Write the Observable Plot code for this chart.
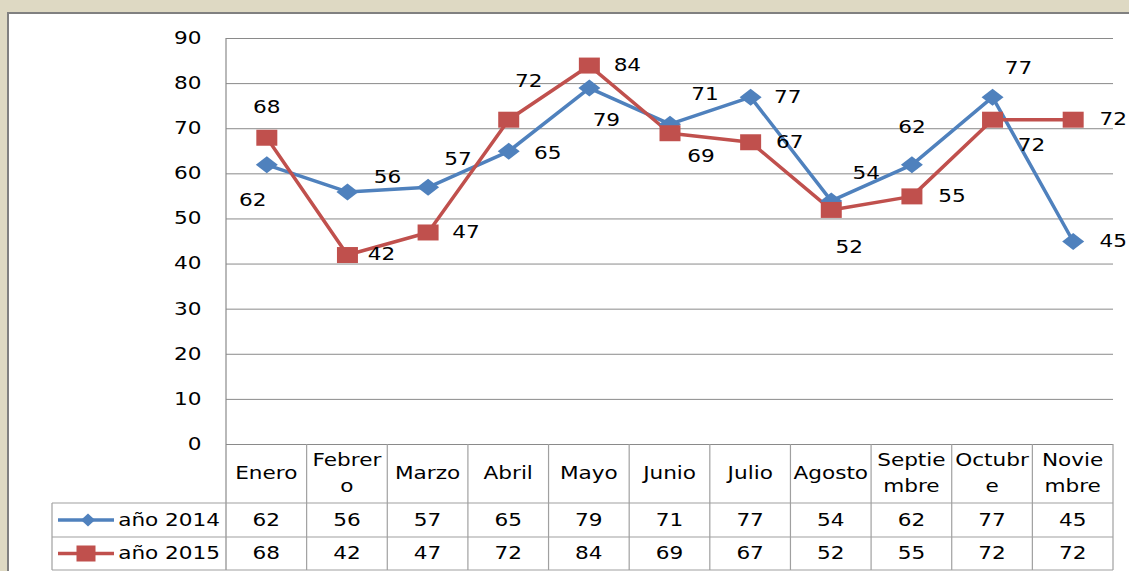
<!DOCTYPE html>
<html><head><meta charset="utf-8">
<script src="https://cdn.jsdelivr.net/npm/d3@7"></script>
<script src="https://cdn.jsdelivr.net/npm/@observablehq/plot@0.6"></script>
<style>
html,body{margin:0;padding:0;background:#DED9C3;}
#wrap{position:relative;width:1129px;height:571px;overflow:hidden;background:#DED9C3;}
#panel{position:absolute;left:7px;top:12px;width:1140px;height:580px;background:#fff;border-left:2px solid #808080;border-top:2px solid #808080;}
#chart{position:absolute;left:0;top:0;}
#chart text.tbl{transform-box:fill-box;transform-origin:center;transform:scaleX(1.27);}
</style></head><body><div id="wrap"><div id="panel"></div><div id="chart"></div></div>
<script>
const months = ["Enero","Febrero","Marzo","Abril","Mayo","Junio","Julio","Agosto","Septiembre","Octubre","Noviembre"];
const headerLines = [["Enero"],["Febrer","o"],["Marzo"],["Abril"],["Mayo"],["Junio"],["Julio"],["Agosto"],["Septie","mbre"],["Octubr","e"],["Novie","mbre"]];
const seriesNames = ["año 2014","año 2015"];
const values2014 = [62,56,57,65,79,71,77,54,62,77,45];
const values2015 = [68,42,47,72,84,69,67,52,55,72,72];
const yTicks = [0,10,20,30,40,50,60,70,80,90];
// label placement offsets (px) for data labels
const off2014 = [[-14,36],[40,-14],[30,-28],[39,2],[17,32],[35,-30],[37,0],[35,-27],[0,-37],[26,-29],[40,0]];
const off2015 = [[0,-30],[34,0],[38,0],[20,-38],[38,0],[31,23],[39,0],[18,38],[40,0],[39,26],[40,0]];

const blue = "#4F81BD", red = "#C0504D";
const SX = 1.27;
const d14 = months.map((m,i)=>({month:m, value:values2014[i]}));
const d15 = months.map((m,i)=>({month:m, value:values2015[i]}));

const wideDiamond = {draw(ctx){ const w=11, h=8.5; ctx.moveTo(0,-h); ctx.lineTo(w,0); ctx.lineTo(0,h); ctx.lineTo(-w,0); ctx.closePath(); }};
const wideSquare = {draw(ctx){ ctx.rect(-10.5,-8,21,16); }};

const labelMarks = (data, offs) => data.map((d,i)=>Plot.text([d], {x:"month", y:"value", text:d=>String(d.value), dx:offs[i][0], dy:offs[i][1], fontSize:17, fill:"#000"}));

const plot = Plot.plot({
  width:1129, height:571, marginLeft:226, marginRight:16, marginTop:38, marginBottom:127,
  style:{background:"transparent", fontFamily:"DejaVu Sans", fontSize:"17px", color:"#000", overflow:"visible"},
  x:{type:"band", domain:months, padding:0, round:false, axis:null},
  y:{domain:[0,90], ticks:yTicks},
  marks:[
    Plot.gridY(yTicks, {stroke:"#8a8a8a", strokeOpacity:1, strokeWidth:1}),
    Plot.axisY(yTicks, {tickSize:0, tickPadding:25, fontSize:17, label:null, fill:"#000"}),
    Plot.line(d14, {x:"month", y:"value", stroke:blue, strokeWidth:3.5}),
    Plot.line(d15, {x:"month", y:"value", stroke:red, strokeWidth:3.5}),
    Plot.dot(d14, {x:"month", y:"value", symbol:wideDiamond, fill:blue, r:8}),
    Plot.dot(d15, {x:"month", y:"value", symbol:wideSquare, fill:red, r:8}),
    ...labelMarks(d14, off2014),
    ...labelMarks(d15, off2015)
  ]
});
document.getElementById("chart").appendChild(plot);

// widen Plot's texts horizontally around their anchor point
d3.select(plot).selectAll("text").each(function(){
  const t = this.getAttribute("transform");
  if (t) { this.setAttribute("transform", `${t} scale(${SX},1)`); }
  else {
    const x = parseFloat(this.getAttribute("x")) || 0;
    this.setAttribute("transform", `translate(${x},0) scale(${SX},1) translate(${-x},0)`);
  }
});

// data table below the chart, positioned with Plot's scales
const svg = d3.select(plot);
const xs = plot.scale("x"), ys = plot.scale("y");
const bw = xs.bandwidth, xL = xs.range[0], xR = xs.range[1];
const yBase = ys.apply(0), yTop = ys.apply(90);
const r1 = yBase + 59, r2 = yBase + 93, r3 = 570;
const legendL = 52;
const g = svg.append("g").attr("font-family","DejaVu Sans").attr("font-size",17).attr("text-anchor","start");
const lineCol = "#a0a0a0";
const hl = (x1,x2,y)=>g.append("line").attr("x1",x1).attr("x2",x2).attr("y1",y).attr("y2",y).attr("stroke",lineCol).attr("stroke-width",1.2);
const vl = (x,y1,y2,c)=>g.append("line").attr("x1",x).attr("x2",x).attr("y1",y1).attr("y2",y2).attr("stroke",c||lineCol).attr("stroke-width",1.2);
vl(xL, yTop, r3, "#8a8a8a");
months.forEach((m,i)=>{ if(i>0) vl(xs.apply(m), yBase, r3); });
vl(xR, yBase, r3);
vl(legendL, r1, r3);
hl(legendL, xR, r1); hl(legendL, xR, r2); hl(legendL, xR, r3);
// header
months.forEach((m,i)=>{
  const cx = xs.apply(m) + bw/2;
  const lines = headerLines[i];
  const cy = (yBase + r1)/2;
  lines.forEach((t,j)=>{
    const y = lines.length===1 ? cy : cy + (j===0 ? -13 : 13);
    g.append("text").attr("class","tbl").attr("x",cx).attr("y",y).attr("text-anchor","middle").attr("dy","0.35em").text(t);
  });
});
// rows
[[values2014, blue, "diamond"], [values2015, red, "square"]].forEach(([vals,col,sym],k)=>{
  const ya = k===0 ? r1 : r2, yb = k===0 ? r2 : r3;
  const cy = (ya+yb)/2;
  g.append("line").attr("x1",58).attr("x2",114).attr("y1",cy).attr("y2",cy).attr("stroke",col).attr("stroke-width",3.5);
  if(sym==="diamond"){
    g.append("path").attr("d",`M88,${cy-6.5}L95,${cy}L88,${cy+6.5}L81,${cy}Z`).attr("fill",col);
  } else {
    g.append("rect").attr("x",76.5).attr("y",cy-8).attr("width",19).attr("height",16).attr("fill",col);
  }
  g.append("text").attr("class","tbl").attr("x",129).attr("y",cy).attr("dy","0.35em").attr("text-anchor","start").text(seriesNames[k]);
  months.forEach((m,i)=>{
    g.append("text").attr("class","tbl").attr("x",xs.apply(m)+bw/2).attr("y",cy).attr("dy","0.35em").attr("text-anchor","middle").text(vals[i]);
  });
});
</script></body></html>
